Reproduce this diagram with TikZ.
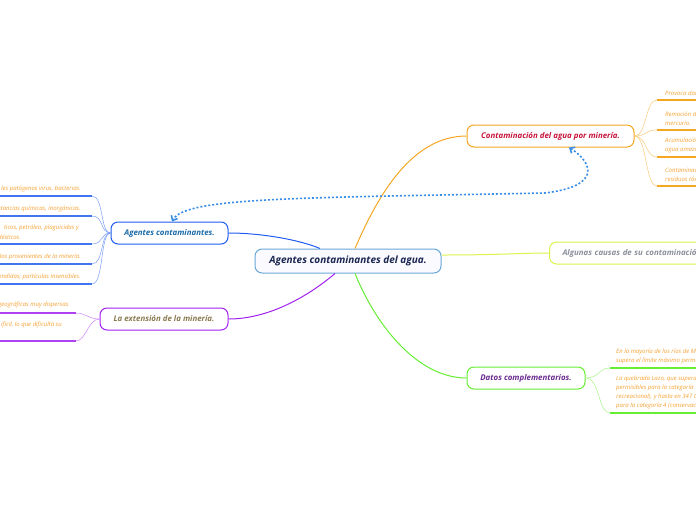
\documentclass[tikz,border=0pt]{standalone}
\usepackage{fontspec}
\setmainfont{Open Sans}
\usetikzlibrary{arrows.meta,calc}
\definecolor{cenborder}{HTML}{6AA8D8}
\definecolor{centext}{HTML}{1A2550}
\definecolor{orangeb}{HTML}{F5A623}
\definecolor{crimson}{HTML}{C8143C}
\definecolor{yellowb}{HTML}{DDF24A}
\definecolor{greytext}{HTML}{8A8F99}
\definecolor{greenb}{HTML}{66EE33}
\definecolor{purpletext}{HTML}{6A2A90}
\definecolor{blueb}{HTML}{1F5CF0}
\definecolor{bluetext}{HTML}{1A6AA8}
\definecolor{violetb}{HTML}{A020F0}
\definecolor{browntext}{HTML}{8A7A50}
\definecolor{itemorange}{HTML}{F5A030}
\definecolor{dotblue}{HTML}{3A8EE6}
\tikzset{
  topic/.style={draw, rounded corners=7pt, line width=1pt, fill=white, inner sep=0pt,
    minimum height=22pt, font=\fontsize{7.9}{9}\selectfont\bfseries\itshape},
  item/.style={font=\fontsize{6}{9}\selectfont\itshape, text=itemorange, inner sep=0pt},
  branch/.style={line width=0.5pt},
  uline/.style={line width=1.6pt},
  conn/.style={line width=1pt},
}
\begin{document}
\begin{tikzpicture}[x=1pt,y=-1pt]
\useasboundingbox (0,0) rectangle (696,520);
\clip (0,0) rectangle (696,520);

% main nodes
\node[topic, draw=cenborder, fill=blue!2, minimum width=186pt, minimum height=24pt,
  font=\fontsize{10}{11}\selectfont\bfseries\itshape, text=centext] (central) at (348,261) {Agentes contaminantes del agua.};
\node[topic, draw=orangeb, text=crimson, minimum width=167pt] (contam) at (550.5,136) {Contaminación del agua por minería.};
\node[topic, draw=yellowb, text=greytext, anchor=west, text width=200pt, align=left, inner xsep=13pt] (causas) at (549,253) {Algunas causas de su contaminación.};
\node[topic, draw=greenb, text=purpletext, minimum width=118pt] (datos) at (526,378) {Datos complementarios.};
\node[topic, draw=blueb, text=bluetext, minimum width=117pt] (agentes) at (169.5,233) {Agentes contaminantes.};
\node[topic, draw=violetb, text=browntext, minimum width=128pt] (extension) at (164,319) {La extensión de la minería.};

% main connectors
\draw[conn, blueb] ([xshift=-28pt]central.north) .. controls (300,240) and (262,233) .. (agentes.east);
\draw[conn, violetb] ([xshift=-13pt]central.south) .. controls (300,303) and (262,319) .. (extension.east);
\draw[conn, orangeb] ([xshift=7pt]central.north) .. controls (378,195) and (412,136) .. (contam.west);
\draw[conn, yellowb] ($(central.east)+(0,-6)$) .. controls (500,255) and (520,253) .. (causas.west);
\draw[conn, greenb] ([xshift=7pt]central.south) .. controls (378,330) and (420,378) .. (datos.west);

% dotted relation arrow
\draw[dotblue, line width=1.6pt, dash pattern=on 2pt off 2pt, {Straight Barb[length=4pt,width=7pt]}-{Straight Barb[length=4pt,width=7pt]}]
  ([xshift=18.5pt]contam.south) .. controls (592,162) and (603,186) .. (545,193)
  .. controls (300,198) and (185,197) .. ([xshift=2.5pt]agentes.north);

% --- Agentes contaminantes items (left)
\foreach \n/\y in {a1/196,a2/216,a3/244,a4/264,a5/284}{
  \coordinate (\n) at (92,\y);
  \draw[branch, blueb!60] (agentes.west) .. controls (100,233) and (104,\y) .. (\n);
  \draw[uline, blueb!85] (\n) -- (-5,\y);
}
\node[item, anchor=south east] (ta1) at (81,192) {les patógenos virus, bacterias.};
\node[item, anchor=south east] (ta2) at (81,212) {stancias químicas, inorgánicas.};
\node[item, anchor=south east] (ta3) at (79,231.5) {ticos, petróleo, plaguicidas y};
\node[item, anchor=south east] (ta3b) at (21,240) {ndésticos.};
\node[item, anchor=south east] (ta4) at (81,260) {los provenientes de la minería.};
\node[item, anchor=south east] (ta5) at (81,280) {endidas; partículas insensibles.};

% --- La extensión items (left)
\foreach \n/\y in {e1/313,e2/341}{
  \coordinate (\n) at (76,\y);
  \draw[branch, violetb!55] (extension.west) .. controls (88,319) and (86,\y) .. (\n);
  \draw[uline, violetb!85] (\n) -- (-5,\y);
}
\node[item, anchor=south east] (te1) at (70,308) {geográficas muy dispersas.};
\node[item, anchor=south east] (te2) at (62,328) {ifícil, lo que dificulta su};

% --- Contaminación items (right)
\foreach \n/\y in {c1/100,c2/130,c3/157,c4/186}{
  \coordinate (\n) at (657,\y);
  \draw[branch, orangeb!60] (contam.east) .. controls (647,136) and (645,\y) .. (\n);
  \draw[uline, orangeb] (\n) -- (701,\y);
}
\node[item, anchor=south west, align=left] (tc1) at (665,96) {Provoca daños};
\node[item, anchor=south west, align=left] (tc2) at (665,126) {Remoción de\\mercurio.};
\node[item, anchor=south west, align=left] (tc3) at (665,153) {Acumulación\\agua amazónica};
\node[item, anchor=south west, align=left] (tc4) at (665,182) {Contaminación\\residuos tóxicos};

% --- Datos items (right)
\foreach \n/\y in {d1/368,d2/413}{
  \coordinate (\n) at (610,\y);
  \draw[branch, greenb!60] (datos.east) .. controls (600,378) and (598,\y) .. (\n);
  \draw[uline, greenb] (\n) -- (701,\y);
}
\node[item, anchor=south west, align=left] (td1) at (616,364) {En la mayoría de los ríos de Madre\\supera el límite máximo permisible};
\node[item, anchor=south west, align=left] (td2) at (616,409) {La quebrada Lazo, que supera los\\permisibles para la categoría 1\\recreacional), y hasta en 347 C\\para la categoría 4 (conservación};
\end{tikzpicture}
\end{document}
